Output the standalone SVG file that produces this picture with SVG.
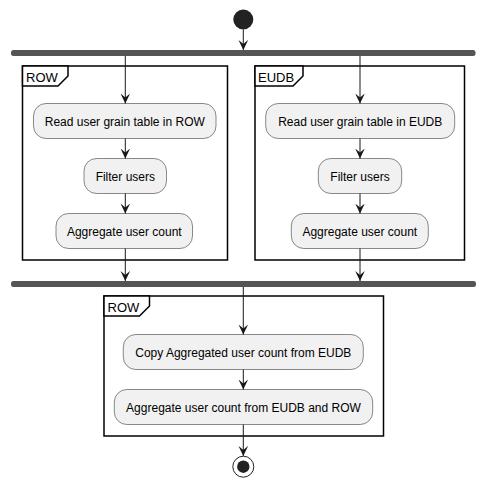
<svg xmlns="http://www.w3.org/2000/svg" width="486" height="488" viewBox="0 0 486 488">
<defs>
<style>
.node rect{fill:#F1F1F1;stroke:#181818;stroke-width:0.5}
.node text{font-family:"Liberation Sans",Arial,sans-serif;font-size:12px;fill:#000;text-anchor:middle}
.frame .box{fill:none;stroke:#000;stroke-width:1.5}
.frame .tab{fill:#fff;stroke:#000;stroke-width:1.5}
.frame text{font-family:"Liberation Sans",Arial,sans-serif;font-size:13px;fill:#000}
.bar{fill:#555555}
#connectors line{stroke:#181818;stroke-width:1}
</style>
<marker id="arr" viewBox="0 0 10 10" refX="10" refY="5" markerWidth="10" markerHeight="10" markerUnits="userSpaceOnUse" orient="auto">
<path d="M0,0.2 L10,5 L0,9.8 L4,5 Z" fill="#181818"/>
</marker>
</defs>
<rect width="486" height="488" fill="#fff"/>

<g id="frame-row-left" class="frame">
<rect class="box" x="22.5" y="66" width="205" height="194"/>
<path class="tab" d="M22.5,66 L68,66 L68,76 L58,86 L22.5,86 Z"/>
<text x="26" y="82">ROW</text>
</g>
<g id="frame-eudb" class="frame">
<rect class="box" x="255" y="66" width="209.5" height="194"/>
<path class="tab" d="M255,66 L303,66 L303,76 L293,86 L255,86 Z"/>
<text x="258" y="82">EUDB</text>
</g>
<g id="frame-row-bottom" class="frame">
<rect class="box" x="104" y="296" width="279.5" height="140"/>
<path class="tab" d="M104,296 L149.5,296 L149.5,306 L139.5,316 L104,316 Z"/>
<text x="107.5" y="312">ROW</text>
</g>

<g id="start"><circle cx="243.3" cy="19.5" r="10" fill="#222222"/></g>
<g id="fork"><rect class="bar" x="11" y="50" width="464.5" height="6" rx="2.5"/></g>
<g id="join"><rect class="bar" x="11" y="281" width="465" height="6" rx="2.5"/></g>

<g id="n-read-row" class="node"><rect x="33.5" y="103.5" width="182.5" height="35" rx="12.5"/><text x="124.8" y="125.5">Read user grain table in ROW</text></g>
<g id="n-filter-row" class="node"><rect x="84" y="158.5" width="82.5" height="35" rx="12.5"/><text x="125.3" y="180.5">Filter users</text></g>
<g id="n-agg-row" class="node"><rect x="56" y="213.5" width="136.5" height="35" rx="12.5"/><text x="124.3" y="235.5">Aggregate user count</text></g>

<g id="n-read-eudb" class="node"><rect x="265.7" y="103.5" width="189" height="35" rx="12.5"/><text x="360.2" y="125.5">Read user grain table in EUDB</text></g>
<g id="n-filter-eudb" class="node"><rect x="318.3" y="158.5" width="83.4" height="35" rx="12.5"/><text x="360" y="180.5">Filter users</text></g>
<g id="n-agg-eudb" class="node"><rect x="291.3" y="213.5" width="137" height="35" rx="12.5"/><text x="359.8" y="235.5">Aggregate user count</text></g>

<g id="n-copy" class="node"><rect x="123.3" y="334.5" width="240" height="35" rx="12.5"/><text x="243.3" y="356.5">Copy Aggregated user count from EUDB</text></g>
<g id="n-agg-all" class="node"><rect x="114.3" y="389.5" width="258.4" height="35" rx="12.5"/><text x="243.5" y="411.5">Aggregate user count from EUDB and ROW</text></g>

<g id="end"><circle cx="243.3" cy="466.7" r="10.5" fill="none" stroke="#222222" stroke-width="1"/><circle cx="243.3" cy="466.7" r="6.2" fill="#222222"/></g>

<g id="connectors">
<line x1="243.3" y1="29.5" x2="243.3" y2="50" marker-end="url(#arr)"/>
<line x1="125.3" y1="56" x2="125.3" y2="103.5" marker-end="url(#arr)"/>
<line x1="360" y1="56" x2="360" y2="103.5" marker-end="url(#arr)"/>
<line x1="125.3" y1="138.5" x2="125.3" y2="158.5" marker-end="url(#arr)"/>
<line x1="125.3" y1="193.5" x2="125.3" y2="213.5" marker-end="url(#arr)"/>
<line x1="125.3" y1="248.5" x2="125.3" y2="281" marker-end="url(#arr)"/>
<line x1="360" y1="138.5" x2="360" y2="158.5" marker-end="url(#arr)"/>
<line x1="360" y1="193.5" x2="360" y2="213.5" marker-end="url(#arr)"/>
<line x1="360" y1="248.5" x2="360" y2="281" marker-end="url(#arr)"/>
<line x1="243.3" y1="287" x2="243.3" y2="334.5" marker-end="url(#arr)"/>
<line x1="243.3" y1="369.5" x2="243.3" y2="389.5" marker-end="url(#arr)"/>
<line x1="243.3" y1="424.5" x2="243.3" y2="456" marker-end="url(#arr)"/>
</g>
</svg>
